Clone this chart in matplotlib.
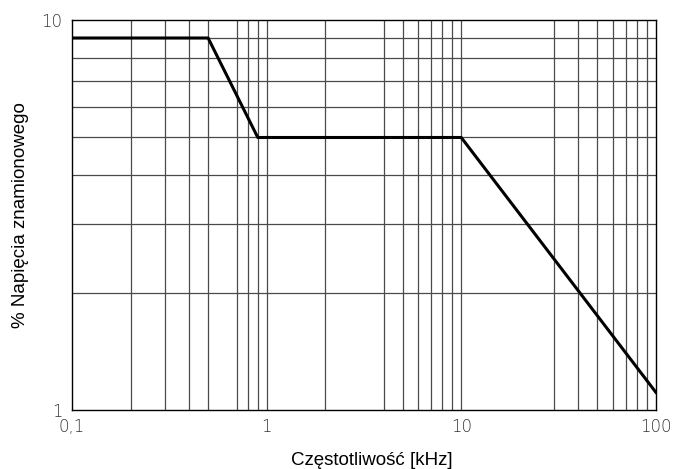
import matplotlib.pyplot as plt
from matplotlib.ticker import FixedLocator, NullLocator

# charakterystyka: częstotliwość [kHz] -> % napięcia znamionowego
freq = [0.1, 0.5, 0.9, 10, 100]
napiecie = [9, 9, 5, 5, 1.11]

# linie siatki
siatka_x = [0.2, 0.3, 0.4, 0.5, 0.7, 0.8, 0.9, 1, 2, 4, 5, 6, 7, 8, 9, 10,
            30, 40, 50, 60, 70, 80, 90]
siatka_y = [2, 3, 4, 5, 6, 7, 8, 9]

x_ticks = [0.1, 1, 10, 100]
x_labels = ["0,1", "1", "10", "100"]
y_ticks = [1, 10]
y_labels = ["1", "10"]

fig = plt.figure(figsize=(6.74, 4.69), dpi=100)
ax = fig.add_axes([0.107, 0.126, 0.866, 0.831])
ax.set_xscale("log")
ax.set_yscale("log")
ax.set_xlim(0.1, 100)
ax.set_ylim(1, 10)

ax.vlines(siatka_x, 1, 10, colors="#4a4a4a", linewidth=0.9, zorder=1)
ax.hlines(siatka_y, 0.1, 100, colors="#4a4a4a", linewidth=0.9, zorder=1)

ax.plot(freq, napiecie, color="black", linewidth=2.2, zorder=3)

ax.xaxis.set_major_locator(FixedLocator(x_ticks))
ax.xaxis.set_minor_locator(NullLocator())
ax.yaxis.set_major_locator(FixedLocator(y_ticks))
ax.yaxis.set_minor_locator(NullLocator())
ax.set_xticklabels(x_labels, fontsize=12, family="DejaVu Sans", fontweight="light")
ax.set_yticklabels(y_labels, fontsize=12, family="DejaVu Sans", fontweight="light")
ax.tick_params(axis="x", length=0, pad=6, colors="#333333")
ax.tick_params(axis="y", length=0, pad=7, colors="#333333")

for s in ax.spines.values():
    s.set_color("black")
    s.set_linewidth(1.0)

ax.set_xlabel("Częstotliwość [kHz]", fontsize=13.5, family="Liberation Sans")
ax.set_ylabel("% Napięcia znamionowego", fontsize=13.5, family="Liberation Sans")
ax.xaxis.set_label_coords(0.514, -0.107)
ax.yaxis.set_label_coords(-0.074, 0.5)

fig.savefig("out.png", dpi=100)
